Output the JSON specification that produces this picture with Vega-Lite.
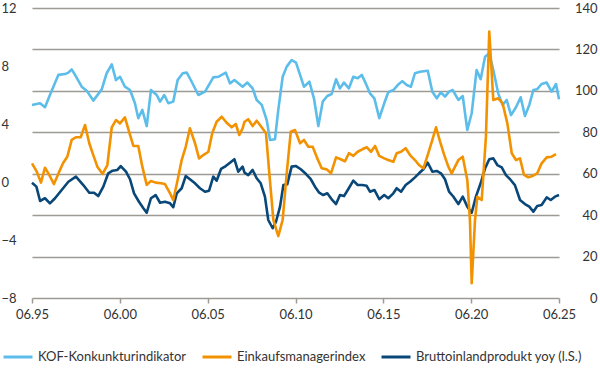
{
  "$schema": "https://vega.github.io/schema/vega-lite/v6.json",
  "width": 527,
  "height": 290,
  "autosize": {"type": "none"},
  "padding": {"left": 32, "top": 8, "right": 41, "bottom": 82},
  "config": {
    "view": {"stroke": null},
    "font": "Lato",
    "axis": {"labelColor": "#333333", "labelFontSize": 13, "title": null, "labelOverlap": false, "labelBound": false}
  },
  "datasets": {
    "kof": [
      {"year":1995.5,"value":93.2},{"year":1995.96,"value":94.0},{"year":1996.24,"value":92.1},{"year":1996.52,"value":98.0},
      {"year":1997.0,"value":107.7},{"year":1997.38,"value":108.1},{"year":1997.57,"value":108.8},{"year":1997.76,"value":110.4},
      {"year":1997.95,"value":107.7},{"year":1998.33,"value":102.0},{"year":1998.61,"value":100.1},{"year":1998.99,"value":95.3},
      {"year":1999.47,"value":100.7},{"year":1999.75,"value":108.5},{"year":2000.04,"value":112.8},{"year":2000.28,"value":105.2},
      {"year":2000.51,"value":106.8},{"year":2000.79,"value":102.0},{"year":2001.08,"value":100.4},{"year":2001.36,"value":94.0},
      {"year":2001.55,"value":86.8},{"year":2001.78,"value":90.8},{"year":2002.03,"value":83.0},{"year":2002.27,"value":100.4},
      {"year":2002.6,"value":98.0},{"year":2002.79,"value":94.8},{"year":2003.03,"value":98.0},{"year":2003.26,"value":94.0},
      {"year":2003.54,"value":94.8},{"year":2003.79,"value":105.2},{"year":2004.08,"value":108.5},{"year":2004.31,"value":108.8},
      {"year":2004.59,"value":104.4},{"year":2004.97,"value":98.0},{"year":2005.35,"value":99.6},{"year":2005.82,"value":106.5},
      {"year":2006.1,"value":106.8},{"year":2006.53,"value":108.8},{"year":2006.77,"value":103.6},{"year":2007.02,"value":105.2},
      {"year":2007.49,"value":102.0},{"year":2007.76,"value":104.0},{"year":2008.06,"value":101.2},{"year":2008.29,"value":95.6},
      {"year":2008.58,"value":93.2},{"year":2008.86,"value":85.9},{"year":2009.05,"value":76.3},{"year":2009.33,"value":76.6},
      {"year":2009.52,"value":90.8},{"year":2009.77,"value":106.8},{"year":2010.0,"value":111.7},{"year":2010.28,"value":114.9},
      {"year":2010.53,"value":113.6},{"year":2010.76,"value":107.7},{"year":2010.98,"value":102.0},{"year":2011.29,"value":104.4},
      {"year":2011.55,"value":96.4},{"year":2011.8,"value":83.0},{"year":2012.05,"value":94.8},{"year":2012.31,"value":97.5},
      {"year":2012.56,"value":98.5},{"year":2012.81,"value":105.6},{"year":2013.03,"value":101.2},{"year":2013.26,"value":104.0},
      {"year":2013.54,"value":101.2},{"year":2013.79,"value":106.8},{"year":2014.04,"value":106.1},{"year":2014.27,"value":107.7},
      {"year":2014.5,"value":103.6},{"year":2014.74,"value":98.8},{"year":2014.99,"value":96.4},{"year":2015.27,"value":86.8},
      {"year":2015.55,"value":94.0},{"year":2015.78,"value":99.3},{"year":2016.07,"value":100.4},{"year":2016.32,"value":102.8},
      {"year":2016.58,"value":104.7},{"year":2016.83,"value":102.8},{"year":2017.07,"value":102.0},{"year":2017.3,"value":108.5},
      {"year":2017.59,"value":109.2},{"year":2017.8,"value":109.5},{"year":2018.03,"value":109.7},{"year":2018.29,"value":99.6},
      {"year":2018.54,"value":96.4},{"year":2018.78,"value":99.3},{"year":2019.01,"value":97.2},{"year":2019.24,"value":99.6},
      {"year":2019.45,"value":100.4},{"year":2019.77,"value":95.6},{"year":2020.02,"value":97.5},{"year":2020.28,"value":81.1},
      {"year":2020.53,"value":89.2},{"year":2020.81,"value":110.1},{"year":2021.04,"value":105.6},{"year":2021.29,"value":116.5},
      {"year":2021.53,"value":118.1},{"year":2021.76,"value":110.1},{"year":2022.04,"value":98.8},{"year":2022.29,"value":93.2},
      {"year":2022.52,"value":95.6},{"year":2022.77,"value":88.3},{"year":2023.05,"value":92.1},{"year":2023.32,"value":96.9},
      {"year":2023.56,"value":87.9},{"year":2023.81,"value":93.2},{"year":2024.04,"value":100.4},{"year":2024.26,"value":100.8},
      {"year":2024.51,"value":103.3},{"year":2024.8,"value":104.0},{"year":2025.08,"value":99.6},{"year":2025.33,"value":103.3},
      {"year":2025.5,"value":95.9}
    ],
    "emi": [
      {"year":1995.5,"value":65.0},{"year":1995.77,"value":61.0},{"year":1996.01,"value":55.7},{"year":1996.24,"value":62.9},
      {"year":1996.48,"value":59.4},{"year":1996.75,"value":55.0},{"year":1997.05,"value":61.0},{"year":1997.28,"value":65.3},
      {"year":1997.51,"value":68.2},{"year":1997.76,"value":76.3},{"year":1998.0,"value":77.6},{"year":1998.27,"value":77.6},
      {"year":1998.52,"value":83.5},{"year":1998.76,"value":74.7},{"year":1998.99,"value":69.0},{"year":1999.22,"value":63.4},
      {"year":1999.52,"value":59.9},{"year":1999.79,"value":64.2},{"year":2000.04,"value":82.4},{"year":2000.28,"value":85.9},
      {"year":2000.51,"value":84.3},{"year":2000.79,"value":87.2},{"year":2001.08,"value":78.7},{"year":2001.27,"value":73.4},
      {"year":2001.55,"value":73.4},{"year":2001.78,"value":63.4},{"year":2002.03,"value":54.6},{"year":2002.27,"value":56.5},
      {"year":2002.54,"value":55.7},{"year":2002.84,"value":55.4},{"year":2003.07,"value":55.0},{"year":2003.36,"value":50.5},
      {"year":2003.54,"value":47.3},{"year":2003.79,"value":57.0},{"year":2004.02,"value":66.6},{"year":2004.25,"value":73.0},
      {"year":2004.49,"value":81.9},{"year":2004.78,"value":74.7},{"year":2005.01,"value":67.4},{"year":2005.25,"value":69.0},
      {"year":2005.54,"value":70.6},{"year":2005.76,"value":79.5},{"year":2006.01,"value":85.1},{"year":2006.3,"value":87.5},
      {"year":2006.58,"value":84.6},{"year":2006.87,"value":82.4},{"year":2007.1,"value":84.0},{"year":2007.3,"value":78.7},
      {"year":2007.49,"value":81.9},{"year":2007.6,"value":85.1},{"year":2007.81,"value":86.3},{"year":2008.06,"value":83.0},
      {"year":2008.29,"value":85.6},{"year":2008.52,"value":83.0},{"year":2008.82,"value":79.5},{"year":2009.01,"value":60.2},
      {"year":2009.24,"value":37.7},{"year":2009.52,"value":29.9},{"year":2009.77,"value":37.7},{"year":2010.0,"value":60.2},
      {"year":2010.23,"value":80.3},{"year":2010.47,"value":81.1},{"year":2010.76,"value":74.7},{"year":2010.98,"value":76.3},
      {"year":2011.23,"value":73.0},{"year":2011.48,"value":73.0},{"year":2011.74,"value":67.4},{"year":2011.99,"value":62.6},
      {"year":2012.28,"value":62.1},{"year":2012.52,"value":60.2},{"year":2012.81,"value":67.9},{"year":2013.07,"value":67.0},
      {"year":2013.32,"value":66.0},{"year":2013.54,"value":69.9},{"year":2013.79,"value":68.6},{"year":2014.04,"value":70.6},
      {"year":2014.3,"value":71.8},{"year":2014.55,"value":72.8},{"year":2014.8,"value":70.6},{"year":2015.03,"value":73.4},
      {"year":2015.27,"value":68.6},{"year":2015.55,"value":67.4},{"year":2015.78,"value":66.6},{"year":2016.07,"value":65.8},
      {"year":2016.26,"value":69.9},{"year":2016.51,"value":70.6},{"year":2016.77,"value":72.3},{"year":2017.02,"value":69.0},
      {"year":2017.3,"value":66.6},{"year":2017.53,"value":64.2},{"year":2017.78,"value":62.6},{"year":2018.06,"value":69.9},
      {"year":2018.29,"value":76.3},{"year":2018.5,"value":82.4},{"year":2018.73,"value":75.5},{"year":2018.97,"value":69.0},
      {"year":2019.2,"value":63.4},{"year":2019.39,"value":60.2},{"year":2019.77,"value":66.6},{"year":2020.02,"value":68.2},
      {"year":2020.28,"value":57.0},{"year":2020.43,"value":37.7},{"year":2020.53,"value":7.1},{"year":2020.72,"value":37.7},
      {"year":2020.85,"value":48.9},{"year":2021.1,"value":47.3},{"year":2021.34,"value":77.9},{"year":2021.53,"value":128.6},
      {"year":2021.76,"value":95.6},{"year":2022.04,"value":96.4},{"year":2022.29,"value":94.0},{"year":2022.56,"value":84.3},
      {"year":2022.81,"value":69.9},{"year":2023.05,"value":66.6},{"year":2023.28,"value":67.4},{"year":2023.51,"value":59.4},
      {"year":2023.75,"value":58.3},{"year":2024.0,"value":58.9},{"year":2024.26,"value":60.2},{"year":2024.51,"value":65.0},
      {"year":2024.8,"value":67.9},{"year":2025.08,"value":68.2},{"year":2025.33,"value":69.5}
    ],
    "bip": [
      {"year":1995.5,"value":-0.05},{"year":1995.75,"value":-0.32},{"year":1995.96,"value":-1.31},{"year":1996.24,"value":-1.12},
      {"year":1996.52,"value":-1.47},{"year":1996.81,"value":-1.12},{"year":1997.19,"value":-0.55},{"year":1997.57,"value":0.02},
      {"year":1998.0,"value":0.37},{"year":1998.42,"value":-0.21},{"year":1998.76,"value":-0.74},{"year":1999.03,"value":-0.74},
      {"year":1999.27,"value":-0.97},{"year":1999.56,"value":-0.32},{"year":1999.84,"value":0.6},{"year":2000.09,"value":0.78},
      {"year":2000.36,"value":0.83},{"year":2000.55,"value":1.1},{"year":2000.85,"value":0.71},{"year":2001.08,"value":0.19},
      {"year":2001.31,"value":-0.78},{"year":2001.59,"value":-1.36},{"year":2001.84,"value":-1.81},{"year":2002.03,"value":-2.12},
      {"year":2002.27,"value":-1.12},{"year":2002.54,"value":-0.9},{"year":2002.79,"value":-1.43},{"year":2003.07,"value":-1.36},
      {"year":2003.36,"value":-1.47},{"year":2003.54,"value":-1.74},{"year":2003.74,"value":-0.78},{"year":2004.02,"value":-0.43},
      {"year":2004.25,"value":0.41},{"year":2004.49,"value":0.19},{"year":2004.78,"value":-0.09},{"year":2005.06,"value":-0.43},
      {"year":2005.35,"value":-0.67},{"year":2005.58,"value":-0.6},{"year":2005.82,"value":0.37},{"year":2006.01,"value":0.09},
      {"year":2006.26,"value":0.9},{"year":2006.53,"value":1.1},{"year":2006.77,"value":1.33},{"year":2007.02,"value":1.57},
      {"year":2007.24,"value":0.71},{"year":2007.49,"value":1.06},{"year":2007.6,"value":0.64},{"year":2007.81,"value":0.48},
      {"year":2008.06,"value":0.83},{"year":2008.29,"value":0.26},{"year":2008.52,"value":-0.09},{"year":2008.76,"value":-1.01},
      {"year":2008.95,"value":-2.62},{"year":2009.2,"value":-3.19},{"year":2009.39,"value":-2.74},{"year":2009.62,"value":-1.7},
      {"year":2009.81,"value":-0.21},{"year":2010.03,"value":-0.16},{"year":2010.28,"value":1.06},{"year":2010.53,"value":1.1},
      {"year":2010.8,"value":0.88},{"year":2011.1,"value":0.55},{"year":2011.37,"value":0.19},{"year":2011.61,"value":-0.32},
      {"year":2011.85,"value":-0.74},{"year":2012.08,"value":-0.9},{"year":2012.31,"value":-0.78},{"year":2012.56,"value":-1.19},
      {"year":2012.81,"value":-1.52},{"year":2013.03,"value":-0.9},{"year":2013.26,"value":-0.97},{"year":2013.5,"value":-0.5},
      {"year":2013.79,"value":0.09},{"year":2014.04,"value":-0.21},{"year":2014.3,"value":-0.21},{"year":2014.55,"value":-0.26},
      {"year":2014.74,"value":-0.67},{"year":2014.99,"value":-0.55},{"year":2015.27,"value":-1.19},{"year":2015.55,"value":-0.9},
      {"year":2015.78,"value":-1.12},{"year":2016.07,"value":-0.78},{"year":2016.26,"value":-0.43},{"year":2016.51,"value":-0.67},
      {"year":2016.77,"value":-0.21},{"year":2017.02,"value":0.02},{"year":2017.3,"value":0.32},{"year":2017.53,"value":0.6},
      {"year":2017.78,"value":0.88},{"year":2018.03,"value":1.33},{"year":2018.29,"value":0.71},{"year":2018.54,"value":0.76},
      {"year":2018.78,"value":0.6},{"year":2019.01,"value":0.19},{"year":2019.24,"value":-0.67},{"year":2019.48,"value":-1.0},
      {"year":2019.77,"value":-1.52},{"year":2020.02,"value":-1.01},{"year":2020.28,"value":-1.7},{"year":2020.53,"value":-2.12},
      {"year":2020.77,"value":-1.01},{"year":2021.04,"value":-0.09},{"year":2021.29,"value":0.94},{"year":2021.53,"value":1.57},
      {"year":2021.76,"value":1.63},{"year":2021.99,"value":1.17},{"year":2022.24,"value":1.01},{"year":2022.48,"value":0.48},
      {"year":2022.75,"value":0.14},{"year":2022.99,"value":-0.21},{"year":2023.28,"value":-1.24},{"year":2023.56,"value":-1.52},
      {"year":2023.81,"value":-1.7},{"year":2024.04,"value":-2.05},{"year":2024.26,"value":-1.66},{"year":2024.51,"value":-1.59},
      {"year":2024.8,"value":-1.06},{"year":2025.03,"value":-1.24},{"year":2025.27,"value":-1.01},{"year":2025.5,"value":-0.9}
    ]
  },
  "encoding": {
    "x": {
      "field": "year", "type": "quantitative",
      "scale": {"domain": [1995.5, 2025.5], "nice": false, "zero": false},
      "axis": {
        "values": [1995.5, 2000.5, 2005.5, 2010.5, 2015.5, 2020.5, 2025.5],
        "labelExpr": "'06.' + substring(toString(floor(datum.value)), 2, 4)",
        "grid": false, "domain": false, "ticks": true, "tickSize": 5,
        "tickColor": "#9d9a93", "tickWidth": 1.5, "labelPadding": 5, "labelFlush": false
      }
    }
  },
  "layer": [
    {
      "data": {"name": "bip"},
      "transform": [{"calculate": "'Bruttoinlandprodukt yoy (l.S.)'", "as": "series"}],
      "mark": {"type": "line", "strokeWidth": 2.6, "strokeJoin": "round"},
      "encoding": {
        "y": {
          "field": "value", "type": "quantitative",
          "scale": {"domain": [-8, 12], "nice": false, "zero": false},
          "axis": {"orient": "left", "values": [-8, -4, 0, 4, 8, 12], "grid": false, "ticks": false, "tickSize": 0, "domain": false, "labelAlign": "left", "labelPadding": 31}
        },
        "color": {
          "field": "series", "type": "nominal",
          "scale": {"domain": ["KOF-Konkunkturindikator", "Einkaufsmanagerindex", "Bruttoinlandprodukt yoy (l.S.)"], "range": ["#5dbdea", "#f39200", "#084778"]},
          "legend": {
            "title": null, "orient": "none", "legendX": -30, "legendY": 333, "direction": "horizontal",
            "symbolType": "stroke", "symbolSize": 841, "symbolStrokeWidth": 3, "labelFontSize": 13, "labelColor": "#333333",
            "labelLimit": 300, "labelOffset": 4, "columnPadding": 9
          }
        }
      }
    },
    {
      "encoding": {
        "y": {
          "field": "value", "type": "quantitative",
          "scale": {"domain": [0, 140], "nice": false},
          "axis": {"orient": "right", "values": [0, 20, 40, 60, 80, 100, 120, 140], "grid": true, "gridColor": "#9d9a93", "gridWidth": 1.5, "ticks": false, "tickSize": 0, "domain": false, "labelAlign": "right", "labelPadding": 38}
        },
        "color": {
          "field": "series", "type": "nominal",
          "scale": {"domain": ["KOF-Konkunkturindikator", "Einkaufsmanagerindex", "Bruttoinlandprodukt yoy (l.S.)"], "range": ["#5dbdea", "#f39200", "#084778"]}
        }
      },
      "layer": [
        {
          "data": {"name": "kof"},
          "transform": [{"calculate": "'KOF-Konkunkturindikator'", "as": "series"}],
          "mark": {"type": "line", "strokeWidth": 2.6, "strokeJoin": "round"}
        },
        {
          "data": {"name": "emi"},
          "transform": [{"calculate": "'Einkaufsmanagerindex'", "as": "series"}],
          "mark": {"type": "line", "strokeWidth": 2.6, "strokeJoin": "round"}
        }
      ]
    }
  ],
  "resolve": {"scale": {"y": "independent"}}
}
